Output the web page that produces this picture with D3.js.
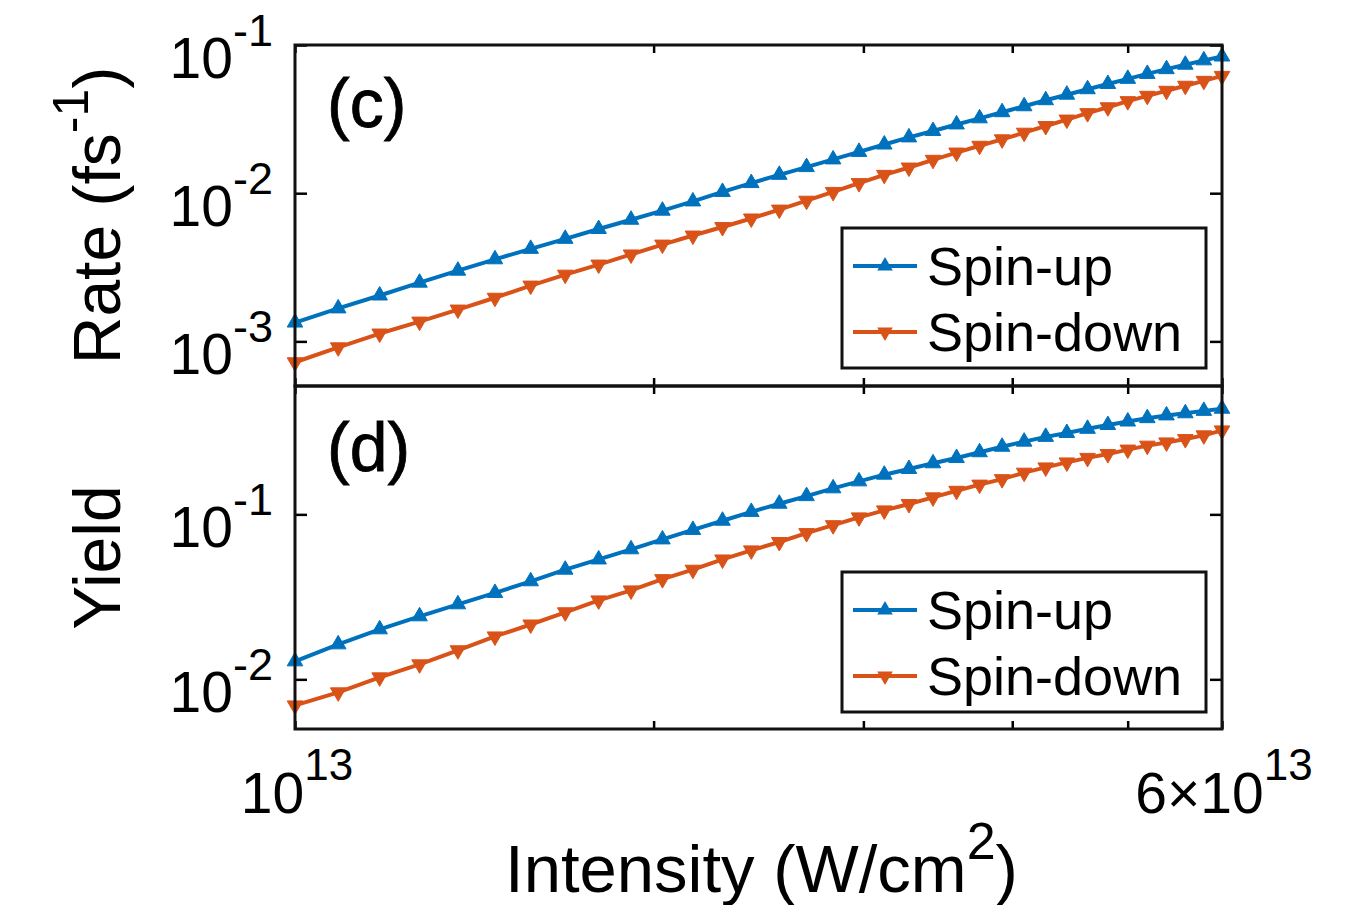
<!DOCTYPE html>
<html>
<head>
<meta charset="utf-8">
<script src="https://cdn.jsdelivr.net/npm/d3@7"></script>
<style>
    body { margin: 0; background: #fff; }
    svg text { font-family: "Liberation Sans", Arial, Helvetica, sans-serif; fill: #000; }
</style>
</head>
<body>
<svg class="chart" width="1346" height="905"></svg>
<script>
// intensity, in units of 1e13 W/cm^2
var intensity = [1.0000, 1.0871, 1.1778, 1.2722, 1.3701, 1.4718, 1.5770, 1.6859, 1.7984, 1.9146,
    2.0344, 2.1578, 2.2849, 2.4156, 2.5499, 2.6879, 2.8295, 2.9747, 3.1236, 3.2761,
    3.4322, 3.5920, 3.7554, 3.9225, 4.0932, 4.2675, 4.4454, 4.6270, 4.8122, 5.0011,
    5.1936, 5.3897, 5.5895, 5.7929, 6.0000];

// (c) ionization rate, fs^-1
var rateUp = [1.34e-3, 1.67e-3, 2.04e-3, 2.49e-3, 3.00e-3, 3.58e-3, 4.21e-3, 4.92e-3, 5.73e-3, 6.62e-3,
    7.62e-3, 8.80e-3, 1.02e-2, 1.17e-2, 1.33e-2, 1.50e-2, 1.69e-2, 1.90e-2, 2.13e-2, 2.38e-2,
    2.63e-2, 2.91e-2, 3.20e-2, 3.52e-2, 3.86e-2, 4.24e-2, 4.62e-2, 5.03e-2, 5.46e-2, 5.91e-2,
    6.38e-2, 6.87e-2, 7.36e-2, 7.88e-2, 8.36e-2];
var rateDown = [7.23e-4, 9.12e-4, 1.13e-3, 1.36e-3, 1.64e-3, 1.97e-3, 2.38e-3, 2.82e-3, 3.30e-3, 3.86e-3,
    4.50e-3, 5.18e-3, 5.91e-3, 6.75e-3, 7.75e-3, 8.90e-3, 1.02e-2, 1.17e-2, 1.33e-2, 1.49e-2,
    1.68e-2, 1.88e-2, 2.09e-2, 2.31e-2, 2.56e-2, 2.84e-2, 3.14e-2, 3.47e-2, 3.80e-2, 4.18e-2,
    4.54e-2, 4.91e-2, 5.31e-2, 5.73e-2, 6.19e-2];

// (d) ionization yield
var yieldUp = [1.285e-2, 1.63e-2, 2.01e-2, 2.41e-2, 2.85e-2, 3.34e-2, 3.93e-2, 4.62e-2, 5.33e-2, 6.14e-2,
    7.05e-2, 8.05e-2, 9.15e-2, 0.1035, 0.1160, 0.1290, 0.1438, 0.1585, 0.1740, 0.1885,
    0.2040, 0.2195, 0.2380, 0.2570, 0.2760, 0.2950, 0.3115, 0.3300, 0.3480, 0.3655,
    0.3830, 0.3980, 0.4100, 0.4240, 0.4370];
var yieldDown = [6.95e-3, 8.34e-3, 1.028e-2, 1.233e-2, 1.50e-2, 1.82e-2, 2.15e-2, 2.55e-2, 3.01e-2, 3.46e-2,
    4.05e-2, 4.62e-2, 5.33e-2, 6.05e-2, 6.80e-2, 7.70e-2, 8.60e-2, 9.59e-2, 0.1057, 0.1155,
    0.1268, 0.1390, 0.1515, 0.1635, 0.1790, 0.1926, 0.2065, 0.2200, 0.2320, 0.2470,
    0.2610, 0.2730, 0.2860, 0.3013, 0.3228];

var seriesNames = ['Spin-up', 'Spin-down'];
var seriesColors = ['#0072BD', '#D95319'];
var xTicks = [1, 2, 3, 4, 5, 6];
var xTickLabels = [[1, '10', '13'], [6, '6\u00d710', '13']];

var left = 295, right = 1222;
var x = d3.scaleLog().domain([1, 6]).range([left, right]);

var panels = [
    {top: 45, bottom: 386, domain: [5e-4, 1e-1], ticks: [1e-3, 1e-2, 1e-1], tag: '(c)', tagY: 127,
        series: [rateUp, rateDown], legendTop: 228, label: ['Rate (fs', '-1', ')']},
    {top: 386, bottom: 729, domain: [5e-3, 0.6], ticks: [1e-2, 1e-1], tag: '(d)', tagY: 471,
        series: [yieldUp, yieldDown], legendTop: 572, label: ['Yield']}
];

var chart = d3.select('svg.chart');
chart.append('rect').attr('width', 1346).attr('height', 905).attr('fill', '#fff');

var marker = d3.symbol(d3.symbolTriangle, 105)();

function supText(sel, parts, size, supSize, raise){
    // parts: [base, sup, tail]
    sel.append('tspan').attr('font-size', size).text(parts[0]);
    if(parts[1]){
        sel.append('tspan').attr('font-size', supSize).attr('dy', -raise).text(parts[1]);
    }
    if(parts[2]){
        sel.append('tspan').attr('font-size', size).attr('dy', raise).text(parts[2]);
    }
}

panels.forEach(function(p){
    var y = d3.scaleLog().domain(p.domain).range([p.bottom, p.top]);
    var g = chart.append('g').attr('class', 'panel');

    // data
    p.series.forEach(function(values, si){
        var pts = intensity.map(function(d, i){ return [x(d), y(values[i])]; });
        g.append('path')
            .attr('d', d3.line()(pts))
            .attr('fill', 'none')
            .attr('stroke', seriesColors[si])
            .attr('stroke-width', 4)
            .attr('stroke-linejoin', 'round');
        g.selectAll('.mark' + si).data(pts).enter().append('path')
            .attr('class', 'mark' + si)
            .attr('d', marker)
            .attr('transform', function(d){ return 'translate(' + d + ') rotate(' + (si ? 180 : 0) + ')'; })
            .attr('fill', seriesColors[si])
            .attr('stroke', seriesColors[si])
            .attr('stroke-width', 1);
    });

    // ticks, inside on all four sides
    var axes = [
        [d3.axisLeft(y).tickValues(p.ticks).tickSize(-12), 'translate(' + left + ',0)'],
        [d3.axisRight(y).tickValues(p.ticks).tickSize(-12), 'translate(' + right + ',0)'],
        [d3.axisTop(x).tickValues(xTicks).tickSize(-8), 'translate(0,' + p.top + ')'],
        [d3.axisBottom(x).tickValues(xTicks).tickSize(-8), 'translate(0,' + p.bottom + ')']
    ];
    axes.forEach(function(a){
        var ax = g.append('g').attr('transform', a[1]).call(a[0].tickFormat(''));
        ax.select('.domain').remove();
        ax.selectAll('line').attr('stroke', '#000').attr('stroke-width', 2.5);
    });

    g.append('rect')
        .attr('x', left).attr('y', p.top)
        .attr('width', right - left).attr('height', p.bottom - p.top)
        .attr('fill', 'none').attr('stroke', '#111').attr('stroke-width', 3);

    // y tick labels
    p.ticks.forEach(function(t){
        var e = Math.round(Math.log10(t));
        var txt = chart.append('text')
            .attr('x', 273).attr('y', y(t) + 33)
            .attr('text-anchor', 'end');
        supText(txt, ['10', String(e)], 57, 45, 32);
    });

    // y label
    var yl = chart.append('text')
        .attr('transform', 'translate(120,' + (p.top + p.bottom) / 2 + ') rotate(-90)')
        .attr('text-anchor', 'middle');
    supText(yl, p.label, 66, 50, 32);

    // panel tag
    chart.append('text')
        .attr('x', 327).attr('y', p.tagY)
        .attr('font-size', 68)
        .attr('stroke', '#000').attr('stroke-width', 0.8)
        .text(p.tag);

    // legend
    var lg = g.append('g').attr('transform', 'translate(842,' + p.legendTop + ')');
    lg.append('rect')
        .attr('width', 364).attr('height', 140)
        .attr('fill', '#fff').attr('stroke', '#111').attr('stroke-width', 3);
    seriesNames.forEach(function(name, si){
        var ly = si ? 104 : 38;
        lg.append('line')
            .attr('x1', 11).attr('x2', 75).attr('y1', ly).attr('y2', ly)
            .attr('stroke', seriesColors[si]).attr('stroke-width', 4);
        lg.append('path')
            .attr('d', marker)
            .attr('transform', 'translate(43,' + ly + ') rotate(' + (si ? 180 : 0) + ')')
            .attr('fill', seriesColors[si]);
        lg.append('text')
            .attr('x', 85).attr('y', si ? 123 : 57)
            .attr('font-size', 54)
            .text(name);
    });
});

// x tick labels
xTickLabels.forEach(function(l){
    var txt = chart.append('text')
        .attr('x', x(l[0]) + 2).attr('y', 813)
        .attr('text-anchor', 'middle');
    supText(txt, [l[1], l[2]], 57, 44, 33);
});

// x label
var xl = chart.append('text')
    .attr('x', (left + right) / 2 + 3).attr('y', 892)
    .attr('text-anchor', 'middle');
supText(xl, ['Intensity (W/cm', '2', ')'], 67, 52, 33);
</script>
</body>
</html>
